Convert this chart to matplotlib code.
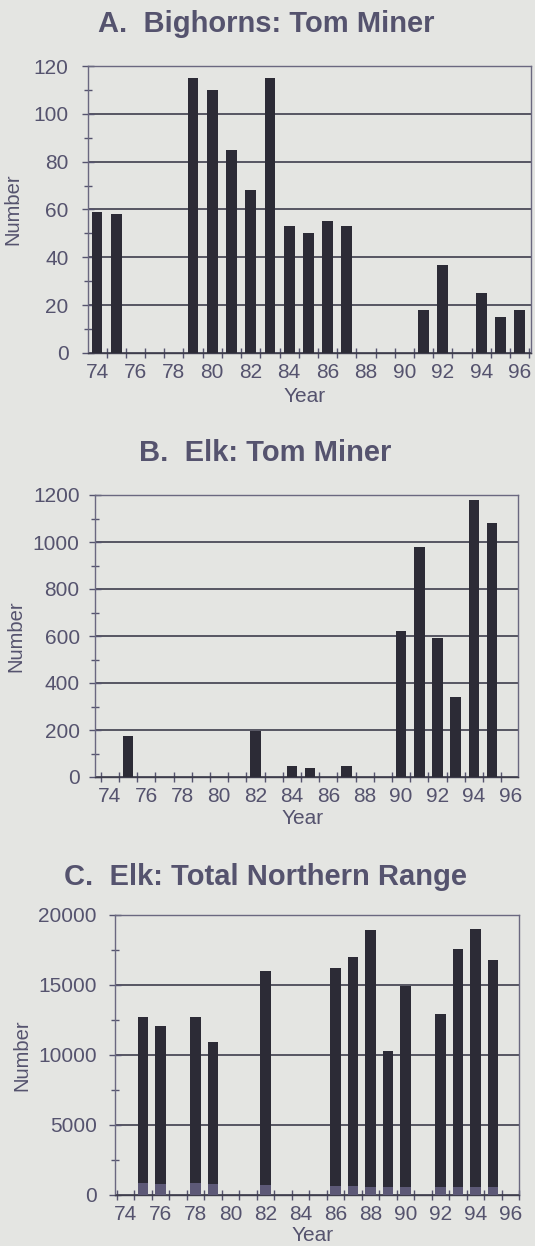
import numpy as np
import matplotlib.pyplot as plt
from matplotlib.ticker import MultipleLocator, FixedLocator, NullFormatter

# years on the category axis (19xx)
years = list(range(74, 97))

# A. Bighorns: Tom Miner
bighorn_years = [74, 75, 79, 80, 81, 82, 83, 84, 85, 86, 87, 91, 92, 94, 95, 96]
bighorn_counts = [59, 58, 115, 110, 85, 68, 115, 53, 50, 55, 53, 18, 37, 25, 15, 18]

# B. Elk: Tom Miner
elk_tm_years = [75, 82, 84, 85, 87, 90, 91, 92, 93, 94, 95]
elk_tm_counts = [175, 195, 47, 40, 45, 620, 980, 590, 340, 1180, 1080]

# C. Elk: Total Northern Range (lighter base segment + dark remainder)
elk_nr_years = [75, 76, 78, 79, 82, 86, 87, 88, 89, 90, 92, 93, 94, 95]
elk_nr_totals = [12700, 12100, 12700, 10900, 16000, 16200, 17000, 18900,
                 10300, 14900, 12900, 17600, 19000, 16800]
elk_nr_base = [830, 800, 830, 760, 700, 670, 640, 600, 600, 600, 600, 550, 550, 600]

BG = '#e4e5e2'
BAR = '#2c2b36'
BASE = '#5d5977'
TXT = '#55536e'
GRID = '#3e3d4c'

plt.rcParams['font.family'] = ['Liberation Sans', 'DejaVu Sans']

fig = plt.figure(figsize=(5.35, 12.46), dpi=100, facecolor=BG)


def style_axis(ax, xlim, ymax, ystep, label_x, year_y, ypad):
    ax.set_facecolor(BG)
    ax.set_xlim(*xlim)
    ax.set_ylim(0, ymax)
    ax.xaxis.set_major_locator(FixedLocator(years[::2]))
    ax.xaxis.set_minor_locator(FixedLocator([y + 0.5 for y in range(73, 97)]))
    ax.set_xticklabels([str(y) for y in years[::2]])
    ax.yaxis.set_major_locator(MultipleLocator(ystep))
    ax.yaxis.set_minor_locator(MultipleLocator(ystep / 2))
    ax.yaxis.set_minor_formatter(NullFormatter())
    ax.tick_params(axis='x', which='major', length=0, pad=7.5, labelsize=15, labelcolor=TXT)
    ax.tick_params(axis='x', which='minor', direction='inout', length=7, width=1, color=TXT)
    ax.tick_params(axis='y', which='major', direction='inout', length=8, width=1,
                   color=TXT, labelsize=15, labelcolor=TXT, pad=ypad)
    ax.tick_params(axis='y', which='minor', direction='inout', length=6, width=1, color=TXT)
    ax.grid(axis='y', which='major', color=GRID, linewidth=1.2)
    ax.set_axisbelow(True)
    for s in ax.spines.values():
        s.set_color('#6a6880')
        s.set_linewidth(1)
    ax.spines['bottom'].set_color(GRID)
    ax.set_ylabel('Number', fontsize=14.5, color=TXT)
    ax.yaxis.set_label_coords(label_x, 0.5)
    ax.set_xlabel('Year', fontsize=15, color=TXT)
    ax.xaxis.set_label_coords(0.49, year_y)


# panel A
axA = fig.add_axes([88 / 535, 1 - 353 / 1246, 443 / 535, 287 / 1246])
axA.bar(bighorn_years, bighorn_counts, width=0.56, color=BAR, zorder=3)
style_axis(axA, (73.53, 96.59), 120, 20, -0.149, -0.118, 10)
fig.text(266 / 535, 1 - 24 / 1246, 'A.  Bighorns: Tom Miner', ha='center', va='center',
         fontsize=21, fontweight='bold', color=TXT)

# panel B
axB = fig.add_axes([95 / 535, 1 - 777 / 1246, 423 / 535, 282 / 1246])
axB.bar(elk_tm_years, elk_tm_counts, width=0.58, color=BAR, zorder=3)
style_axis(axB, (73.18, 96.42), 1200, 200, -0.165, -0.113, 7)
fig.text(265 / 535, 1 - 453 / 1246, 'B.  Elk: Tom Miner', ha='center', va='center',
         fontsize=21, fontweight='bold', color=TXT)

# panel C
axC = fig.add_axes([115 / 535, 1 - 1195 / 1246, 404 / 535, 280 / 1246])
upper = np.array(elk_nr_totals) - np.array(elk_nr_base)
axC.bar(elk_nr_years, elk_nr_base, width=0.6, color=BASE, zorder=3)
axC.bar(elk_nr_years, upper, bottom=elk_nr_base, width=0.6, color=BAR, zorder=3)
style_axis(axC, (73.4, 96.5), 20000, 5000, -0.208, -0.112, 9)
fig.text(265 / 535, 1 - 877 / 1246, 'C.  Elk: Total Northern Range', ha='center', va='center',
         fontsize=21, fontweight='bold', color=TXT)

fig.savefig('out.png', dpi=100, facecolor=BG)
